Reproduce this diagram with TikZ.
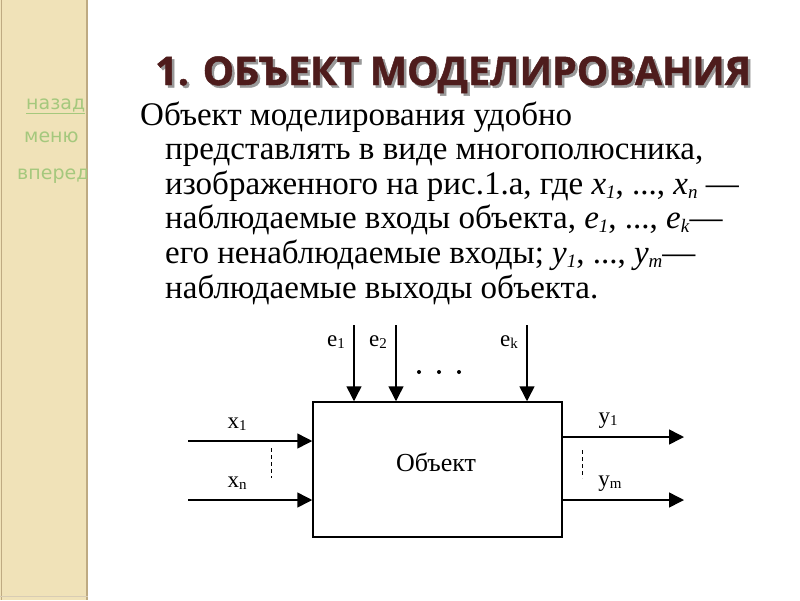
\documentclass[tikz,border=0pt]{standalone}
\usepackage{fontspec}
\setmainfont{Liberation Serif}
\newfontfamily\titlefont[BoldFeatures={FakeBold=1.2}]{Open Sans}
\newfontfamily\navfont{DejaVu Sans}
\usetikzlibrary{arrows.meta}
\definecolor{sidebar}{RGB}{240,226,184}
\definecolor{sideedge}{RGB}{190,170,130}
\definecolor{titlecol}{RGB}{78,28,28}
\definecolor{navgreen}{RGB}{165,200,125}
\newcommand{\sbs}[1]{\raisebox{-0.3ex}{\fontsize{19}{19}\selectfont #1}}
\newcommand{\lsb}[1]{\raisebox{-0.15ex}{\fontsize{15}{15}\selectfont #1}}
\begin{document}
\begin{tikzpicture}[x=1pt,y=-1pt,
  body/.style={anchor=base west,inner sep=0pt,font=\fontsize{33}{33}\selectfont},
  lbl/.style={inner sep=0pt,font=\fontsize{23}{23}\selectfont},
  arr/.style={line width=1.5pt,-{Triangle[length=15pt,width=15pt]}},
  nav/.style={anchor=base west,inner sep=0pt,text=navgreen,font=\navfont\fontsize{19}{19}\selectfont}]
\useasboundingbox (0,0) rectangle (800,600);
\fill[white] (0,0) rectangle (800,600);
% sidebar
\fill[sidebar] (0,0) rectangle (88,600);
\draw[sideedge,line width=1.2pt] (1.5,0) -- (1.5,600);
\draw[sideedge,line width=1.5pt] (87,0) -- (87,600);
\draw[sideedge!60,line width=1pt] (0,596) -- (88,596);
\begin{scope}
\clip (0,0) rectangle (86,600);
\node[nav] (back) at (26,109) {\underline{назад}};
\node[nav] (menu) at (24,142) {меню};
\node[nav] (fwd) at (17,179) {вперед};
\end{scope}
% title
\node[anchor=base west,inner sep=0pt,text=black!40,font=\titlefont\bfseries\fontsize{39.5}{39.5}\selectfont] (tshadow) at (157.5,87.5) {1. ОБЪЕКТ МОДЕЛИРОВАНИЯ};
\node[anchor=base west,inner sep=0pt,text=titlecol,font=\titlefont\bfseries\fontsize{39.5}{39.5}\selectfont] (title) at (155,85) {1. ОБЪЕКТ МОДЕЛИРОВАНИЯ};
% body
\node[body] (l1) at (140,125) {Объект моделирования удобно};
\node[body] (l2) at (165,159) {представлять в виде многополюсника,};
\node[body] (l3) at (165,194) {изображенного на рис.1.а, где \textit{x}\sbs{\textit{1}}, ..., \textit{x}\sbs{\textit{n}} —};
\node[body] (l4) at (165,228) {наблюдаемые входы объекта, \textit{e}\sbs{\textit{1}}, ..., \textit{e}\sbs{\textit{k}}—};
\node[body] (l5) at (165,263) {его ненаблюдаемые входы; \textit{y}\sbs{\textit{1}}, ..., \textit{y}\sbs{\textit{m}}—};
\node[body] (l6) at (165,298) {наблюдаемые выходы объекта.};
% diagram
\node[draw,line width=1.5pt,minimum width=249pt,minimum height=135pt,inner sep=0pt] (obj) at (437.5,469.5) {};
\node[lbl,font=\fontsize{26}{26}\selectfont] (objt) at (436,462) {Объект};
\coordinate (e1s) at (354,325);
\coordinate (e2s) at (396,325);
\coordinate (eks) at (527,325);
\draw[arr] (e1s) -- (e1s |- obj.north);
\draw[arr] (e2s) -- (e2s |- obj.north);
\draw[arr] (eks) -- (eks |- obj.north);
\node[lbl] (le1) at (336,342) {e\lsb{1}};
\node[lbl] (le2) at (378,342) {e\lsb{2}};
\node[lbl] (lek) at (509,342) {e\lsb{k}};
\fill (419,372) circle (2) (439,372) circle (2) (459,372) circle (2);
\coordinate (x1s) at (188,441);
\coordinate (xns) at (188,500);
\draw[arr] (x1s) -- (x1s -| obj.west);
\draw[arr] (xns) -- (xns -| obj.west);
\node[lbl] (lx1) at (237,424) {x\lsb{1}};
\node[lbl] (lxn) at (237,483) {x\lsb{n}};
\draw[line width=1pt,dash pattern=on 4pt off 3pt] (271,448) -- (271,478);
\coordinate (y1e) at (684,437);
\coordinate (yme) at (684,500);
\draw[arr] (y1e -| obj.east) -- (y1e);
\draw[arr] (yme -| obj.east) -- (yme);
\node[lbl] (ly1) at (608,421) {y\lsb{1}};
\node[lbl] (lym) at (610,484) {y\lsb{m}};
\draw[line width=1pt,dash pattern=on 4pt off 3pt] (582,450) -- (582,478);
\end{tikzpicture}
\end{document}
